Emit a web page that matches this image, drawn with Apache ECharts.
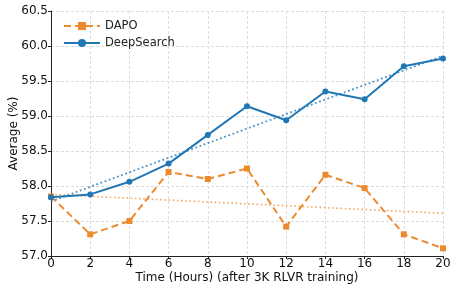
<!DOCTYPE html>
<html><head><meta charset="utf-8">
<script src="https://cdn.jsdelivr.net/npm/echarts@6/dist/echarts.min.js"></script>
<style>html,body{margin:0;padding:0;background:#fff}#c{width:457px;height:292px}</style>
</head><body><div id="c"></div>
<script>
const hours = [0, 2, 4, 6, 8, 10, 12, 14, 16, 18, 20];
const dapo = [57.85, 57.31, 57.50, 58.20, 58.10, 58.25, 57.42, 58.16, 57.97, 57.31, 57.11];
const deepSearch = [57.84, 57.88, 58.06, 58.32, 58.73, 59.14, 58.94, 59.35, 59.24, 59.71, 59.82];
const trendHours = [0, 20];
const dapoTrend = [57.88, 57.61];
const deepSearchTrend = [57.78, 59.86];

const ORANGE = '#ec8a2e';
const BLUE = '#2177b4';
const font = 'DejaVu Sans';
const zip = (xs, ys) => xs.map((x, i) => [x, ys[i]]);

const chart = echarts.init(document.getElementById('c'), null, {renderer: 'canvas'});
chart.setOption({
  animation: false,
  textStyle: {fontFamily: font},
  grid: {left: 51, right: 14, top: 11, bottom: 36, containLabel: false, outerBoundsMode: 'none'},
  legend: {
    left: 58, top: 15, orient: 'vertical', itemGap: 5, itemWidth: 36, itemHeight: 10,
    textStyle: {fontFamily: font, fontSize: 11.5, color: '#222'},
    data: ['DAPO', 'DeepSearch']
  },
  xAxis: {
    type: 'value', min: 0, max: 20, interval: 2,
    name: 'Time (Hours) (after 3K RLVR training)', nameLocation: 'middle', nameGap: 16,
    nameMoveOverlap: false,
    nameTextStyle: {fontFamily: font, fontSize: 12, color: '#111'},
    axisLine: {show: true, onZero: false, lineStyle: {color: '#222', width: 1}},
    axisTick: {show: true, length: 3, lineStyle: {color: '#222'}},
    axisLabel: {fontFamily: font, fontSize: 12, color: '#111', margin: 2},
    splitLine: {show: true, lineStyle: {type: [3, 2], color: '#dcdcdc', width: 1}}
  },
  yAxis: {
    type: 'value', min: 57, max: 60.5, interval: 0.5,
    name: 'Average (%)', nameLocation: 'middle', nameGap: 31,
    nameMoveOverlap: false,
    nameTextStyle: {fontFamily: font, fontSize: 12, color: '#111'},
    axisLine: {show: true, lineStyle: {color: '#222', width: 1}},
    axisTick: {show: true, length: 3, lineStyle: {color: '#222'}},
    axisLabel: {fontFamily: font, fontSize: 12, color: '#111', margin: 3, formatter: v => v.toFixed(1)},
    splitLine: {show: true, lineStyle: {type: [3, 2], color: '#dcdcdc', width: 1}}
  },
  series: [
    {
      name: 'DAPO trend', type: 'line', data: zip(trendHours, dapoTrend), symbol: 'none',
      lineStyle: {color: ORANGE, width: 1.6, type: [1.6, 2.6], opacity: 0.75}, silent: true, z: 1
    },
    {
      name: 'DeepSearch trend', type: 'line', data: zip(trendHours, deepSearchTrend), symbol: 'none',
      lineStyle: {color: BLUE, width: 1.8, type: [1.8, 2.6], opacity: 0.8}, silent: true, z: 1
    },
    {
      name: 'DAPO', type: 'line', data: zip(hours, dapo),
      symbol: 'rect', symbolSize: 6, showSymbol: true,
      itemStyle: {color: ORANGE},
      lineStyle: {color: ORANGE, width: 2, type: [7, 4]}, z: 3
    },
    {
      name: 'DeepSearch', type: 'line', data: zip(hours, deepSearch),
      symbol: 'circle', symbolSize: 6, showSymbol: true,
      itemStyle: {color: BLUE},
      lineStyle: {color: BLUE, width: 2}, z: 4
    }
  ]
});
</script></body></html>
